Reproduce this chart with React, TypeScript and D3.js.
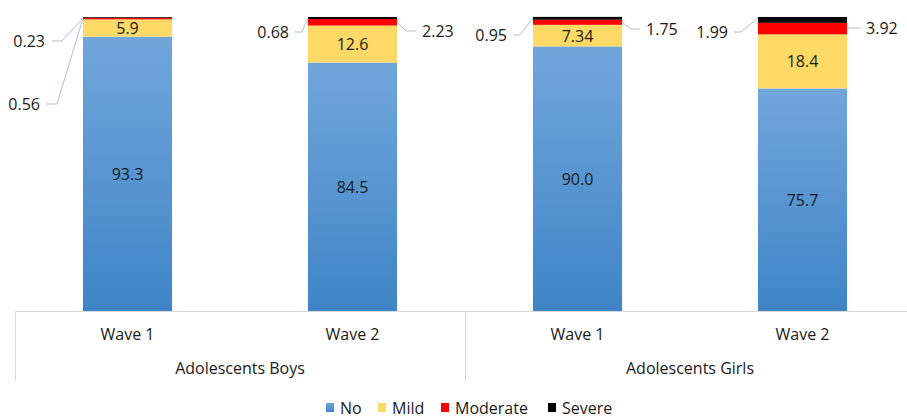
import React from "react";
import * as d3 from "d3";

// Stacked shares (%) for each wave within each group
const groups = ["Adolescents Boys", "Adolescents Girls"];
const waves = ["Wave 1", "Wave 2", "Wave 1", "Wave 2"];
const seriesNames = ["No", "Mild", "Moderate", "Severe"];
const noValues = [93.3, 84.5, 90.0, 75.7];
const mildValues = [5.9, 12.6, 7.34, 18.4];
const moderateValues = [0.56, 2.23, 1.75, 3.92];
const severeValues = [0.23, 0.68, 0.95, 1.99];
const noLabels = ["93.3", "84.5", "90.0", "75.7"];
const mildLabels = ["5.9", "12.6", "7.34", "18.4"];
const moderateLabels = ["0.56", "2.23", "1.75", "3.92"];
const severeLabels = ["0.23", "0.68", "0.95", "1.99"];

const W = 907;
const H = 417;
const FONT = "'Open Sans', sans-serif";
const FS = 16;
const TEXT = "#1a1a1a";
const LEADER = "#b4bfcf";
const GRID = "#d9d9d9";

const colors = ["url(#noGrad)", "#ffd966", "#ff0000", "#000000"];

// Callout placement for the thin segments:
// gap = distance from the bar edge to the near edge of the label, y = label centre line
type Callout = { side: "left" | "right"; gap: number; y: number };
const moderateCallouts: Callout[] = [
  { side: "left", gap: 43, y: 104 },
  { side: "right", gap: 25, y: 31 },
  { side: "right", gap: 24, y: 29 },
  { side: "right", gap: 19, y: 28 },
];
const severeCallouts: Callout[] = [
  { side: "left", gap: 38, y: 41 },
  { side: "left", gap: 19, y: 32 },
  { side: "left", gap: 26, y: 35 },
  { side: "left", gap: 30, y: 32 },
];

export default function App() {
  const x = d3
    .scaleBand<number>()
    .domain(d3.range(waves.length))
    .range([15, 915])
    .paddingInner(0.604)
    .paddingOuter(0.302);
  const y = d3.scaleLinear().domain([0, 100]).range([311, 17]);

  const rows = waves.map((_, i) => ({
    No: noValues[i],
    Mild: mildValues[i],
    Moderate: moderateValues[i],
    Severe: severeValues[i],
  }));
  const stacked = d3.stack<any>().keys(seriesNames)(rows);

  const bw = x.bandwidth();
  const groupWidth = (915 - 15) / groups.length;

  const callout = (i: number, s: number, c: Callout, label: string, key: string) => {
    const seg = stacked[s][i];
    const x0 = x(i)!;
    const x1 = x0 + bw;
    const segMid = y((seg[0] + seg[1]) / 2);
    if (c.side === "left") {
      const textEnd = x0 - c.gap;
      const ay = s === 3 ? y(seg[1]) + 1 : segMid;
      const pts =
        c.gap > 30
          ? `${textEnd + 7},${c.y} ${textEnd + 17},${c.y} ${x0},${ay}`
          : `${textEnd + 6},${c.y} ${textEnd + 13},${c.y} ${x0},${ay}`;
      return (
        <g key={key}>
          <polyline points={pts} fill="none" stroke={LEADER} strokeWidth={1} />
          <text x={textEnd} y={c.y} textAnchor="end" dominantBaseline="central" fontSize={FS} fill={TEXT} fontFamily={FONT}>
            {label}
          </text>
        </g>
      );
    }
    const tx = x1 + c.gap;
    const pts =
      Math.abs(segMid - c.y) > 3
        ? `${x1},${segMid} ${x1 + 9},${c.y} ${tx - 6},${c.y}`
        : `${x1},${c.y} ${tx - 6},${c.y}`;
    return (
      <g key={key}>
        <polyline points={pts} fill="none" stroke={LEADER} strokeWidth={1} />
        <text x={tx} y={c.y} textAnchor="start" dominantBaseline="central" fontSize={FS} fill={TEXT} fontFamily={FONT}>
          {label}
        </text>
      </g>
    );
  };

  const legendItems = [
    { name: "No", x: 326 },
    { name: "Mild", x: 378 },
    { name: "Moderate", x: 441 },
    { name: "Severe", x: 548 },
  ];

  return (
    <svg width={W} height={H} style={{ position: "absolute", left: 0, top: 0, background: "#fff" }}>
      <defs>
        <linearGradient id="noGrad" x1="0" y1="0" x2="0" y2="1">
          <stop offset="0%" stopColor="#71a6dc" />
          <stop offset="100%" stopColor="#3f85c6" />
        </linearGradient>
      </defs>

      {/* stacked bars */}
      {stacked.map((layer, s) => (
        <g key={seriesNames[s]}>
          {layer.map((seg, i) => (
            <rect
              key={i}
              x={x(i)}
              y={y(seg[1])}
              width={bw}
              height={y(seg[0]) - y(seg[1])}
              fill={colors[s]}
            />
          ))}
        </g>
      ))}

      {/* in-bar labels */}
      {stacked[0].map((seg, i) => (
        <text key={"no" + i} x={x(i)! + bw / 2} y={y((seg[0] + seg[1]) / 2)} textAnchor="middle" dominantBaseline="central" fontSize={FS} fill={TEXT} fontFamily={FONT}>
          {noLabels[i]}
        </text>
      ))}
      {stacked[1].map((seg, i) => (
        <text key={"mild" + i} x={x(i)! + bw / 2} y={y((seg[0] + seg[1]) / 2)} textAnchor="middle" dominantBaseline="central" fontSize={FS} fill={TEXT} fontFamily={FONT}>
          {mildLabels[i]}
        </text>
      ))}

      {/* callouts for thin segments */}
      {waves.map((_, i) => callout(i, 2, moderateCallouts[i], moderateLabels[i], "m" + i))}
      {waves.map((_, i) => callout(i, 3, severeCallouts[i], severeLabels[i], "s" + i))}

      {/* category axis */}
      <line x1={15} x2={W} y1={311.5} y2={311.5} stroke={GRID} />
      {d3.range(groups.length + 1).map((g) => (
        <line key={g} x1={15.5 + g * groupWidth} x2={15.5 + g * groupWidth} y1={311} y2={381} stroke={GRID} />
      ))}
      {waves.map((w, i) => (
        <text key={"w" + i} x={x(i)! + bw / 2} y={334} textAnchor="middle" dominantBaseline="central" fontSize={FS} fill={TEXT} fontFamily={FONT}>
          {w}
        </text>
      ))}
      {groups.map((g, gi) => (
        <text key={g} x={15 + groupWidth * (gi + 0.5)} y={368} textAnchor="middle" dominantBaseline="central" fontSize={FS} fill={TEXT} fontFamily={FONT}>
          {g}
        </text>
      ))}

      {/* legend */}
      {legendItems.map((it, k) => (
        <g key={it.name}>
          <rect x={it.x} y={403} width={8} height={9} fill={colors[k]} />
          <text x={it.x + 14} y={407.5} dominantBaseline="central" fontSize={FS} fill={TEXT} fontFamily={FONT}>
            {it.name}
          </text>
        </g>
      ))}
    </svg>
  );
}
